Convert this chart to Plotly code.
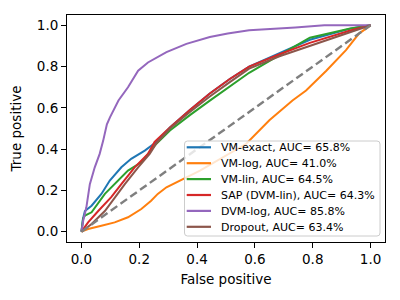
import plotly.graph_objects as go

labels = ["VM-exact, AUC= 65.8%", "VM-log, AUC= 41.0%", "VM-lin, AUC= 64.5%",
          "SAP (DVM-lin), AUC= 64.3%", "DVM-log, AUC= 85.8%", "Dropout, AUC= 63.4%"]
colors = ["#1f77b4", "#ff7f0e", "#2ca02c", "#d62728", "#9467bd", "#8c564b"]

vm_exact_fpr = [0, 0.005, 0.012, 0.035, 0.069, 0.098, 0.138, 0.172, 0.219, 0.259, 0.306, 0.375,
                0.444, 0.513, 0.58, 0.685, 0.79, 0.93, 1]
vm_exact_tpr = [0, 0.06, 0.10, 0.126, 0.183, 0.248, 0.312, 0.353, 0.393, 0.434, 0.505, 0.59,
                0.67, 0.74, 0.80, 0.865, 0.93, 0.984, 1]

vm_log_fpr = [0, 0.023, 0.069, 0.115, 0.161, 0.207, 0.241, 0.264, 0.294, 0.41, 0.57, 0.65, 0.73,
              0.777, 0.847, 0.915, 0.96, 1]
vm_log_tpr = [0, 0.013, 0.029, 0.045, 0.07, 0.11, 0.15, 0.183, 0.215, 0.296, 0.426, 0.54, 0.636,
              0.684, 0.78, 0.88, 0.96, 1]

vm_lin_fpr = [0, 0.006, 0.012, 0.035, 0.081, 0.127, 0.161, 0.207, 0.253, 0.306, 0.375, 0.444,
              0.513, 0.58, 0.685, 0.79, 0.93, 1]
vm_lin_tpr = [0, 0.065, 0.078, 0.094, 0.183, 0.248, 0.296, 0.336, 0.417, 0.49, 0.565, 0.635,
              0.705, 0.77, 0.855, 0.94, 0.985, 1]

sap_fpr = [0, 0.023, 0.058, 0.103, 0.138, 0.184, 0.23, 0.253, 0.306, 0.375, 0.444, 0.513, 0.58,
           0.685, 0.79, 0.93, 1]
sap_tpr = [0, 0.045, 0.10, 0.167, 0.23, 0.312, 0.377, 0.435, 0.505, 0.59, 0.67, 0.74, 0.80,
           0.86, 0.915, 0.975, 1]

dvm_log_fpr = [0, 0.006, 0.017, 0.029, 0.046, 0.063, 0.075, 0.088, 0.099, 0.128, 0.161, 0.196,
               0.23, 0.294, 0.363, 0.444, 0.506, 0.58, 0.74, 0.84, 1]
dvm_log_tpr = [0, 0.053, 0.118, 0.23, 0.312, 0.377, 0.44, 0.52, 0.555, 0.636, 0.70, 0.78,
               0.82, 0.87, 0.91, 0.943, 0.96, 0.976, 0.99, 1.0, 1]

dropout_fpr = [0, 0.035, 0.081, 0.115, 0.15, 0.196, 0.236, 0.26, 0.306, 0.375, 0.444, 0.513,
               0.58, 0.685, 0.79, 0.93, 1]
dropout_tpr = [0, 0.037, 0.10, 0.167, 0.23, 0.312, 0.377, 0.43, 0.50, 0.58, 0.655, 0.725,
               0.79, 0.85, 0.90, 0.967, 1]

diag = [0, 1]

series = [(vm_exact_fpr, vm_exact_tpr), (vm_log_fpr, vm_log_tpr), (vm_lin_fpr, vm_lin_tpr),
          (sap_fpr, sap_tpr), (dvm_log_fpr, dvm_log_tpr), (dropout_fpr, dropout_tpr)]

# layout geometry (figure pixels)
W, H = 400, 300
ML, MT, PW, PH = 59, 7, 318, 227
MR, MB = W - ML - PW, H - MT - PH


def px(x):
    return (x - ML) / PW


def py(y):
    return 1 - (y - MT) / PH


fig = go.Figure()
for (fx, ty), name, c in zip(series, labels, colors):
    fig.add_trace(go.Scatter(x=fx, y=ty, mode="lines", name=name, showlegend=False,
                             line=dict(color=c, width=2)))
fig.add_trace(go.Scatter(x=diag, y=diag, mode="lines", showlegend=False,
                         line=dict(color="#7f7f7f", width=2.4, dash="8px,4px")))

axis_common = dict(range=[-0.05, 1.05], showline=True, mirror=True, linecolor="black",
                   linewidth=1, ticks="outside", ticklen=5, tickcolor="black",
                   showgrid=False, zeroline=False, automargin=False,
                   tickvals=[0, 0.2, 0.4, 0.6, 0.8, 1.0],
                   ticktext=["0.0", "0.2", "0.4", "0.6", "0.8", "1.0"],
                   tickfont=dict(size=13.5, color="black"))
fig.update_xaxes(**axis_common, title=dict(text="False positive", font=dict(size=13.5, color="black"), standoff=8))
fig.update_yaxes(**axis_common, title=dict(text="True positive", font=dict(size=13.5, color="black"), standoff=20))

# legend box (matplotlib style, rounded corners)
bx0, bx1, by0, by1, r = 176.5, 372, 133, 228, 3
path = (f"M {px(bx0 + r)} {py(by0)} L {px(bx1 - r)} {py(by0)} "
        f"Q {px(bx1)} {py(by0)} {px(bx1)} {py(by0 + r)} L {px(bx1)} {py(by1 - r)} "
        f"Q {px(bx1)} {py(by1)} {px(bx1 - r)} {py(by1)} L {px(bx0 + r)} {py(by1)} "
        f"Q {px(bx0)} {py(by1)} {px(bx0)} {py(by1 - r)} L {px(bx0)} {py(by0 + r)} "
        f"Q {px(bx0)} {py(by0)} {px(bx0 + r)} {py(by0)} Z")
shapes = [dict(type="path", xref="paper", yref="paper", path=path,
               fillcolor="rgba(255,255,255,0.8)", line=dict(color="#cccccc", width=1), layer="above")]
annotations = []
row0, step = 139.3, 15.9
for i, (name, c) in enumerate(zip(labels, colors)):
    yy = row0 + i * step
    shapes.append(dict(type="line", xref="paper", yref="paper", x0=px(178.7), x1=px(203),
                       y0=py(yy), y1=py(yy), line=dict(color=c, width=2.2), layer="above"))
    annotations.append(dict(xref="paper", yref="paper", x=px(210.5), y=py(yy + 0.5), text=name,
                            showarrow=False, xanchor="left", yanchor="middle",
                            font=dict(size=11, color="black", family="DejaVu Sans")))

fig.update_layout(
    width=W, height=H,
    margin=dict(l=ML, r=MR, t=MT, b=MB),
    plot_bgcolor="white", paper_bgcolor="white",
    font=dict(family="DejaVu Sans", color="black"),
    showlegend=False,
    shapes=shapes, annotations=annotations,
)
fig.write_html("out.html")
